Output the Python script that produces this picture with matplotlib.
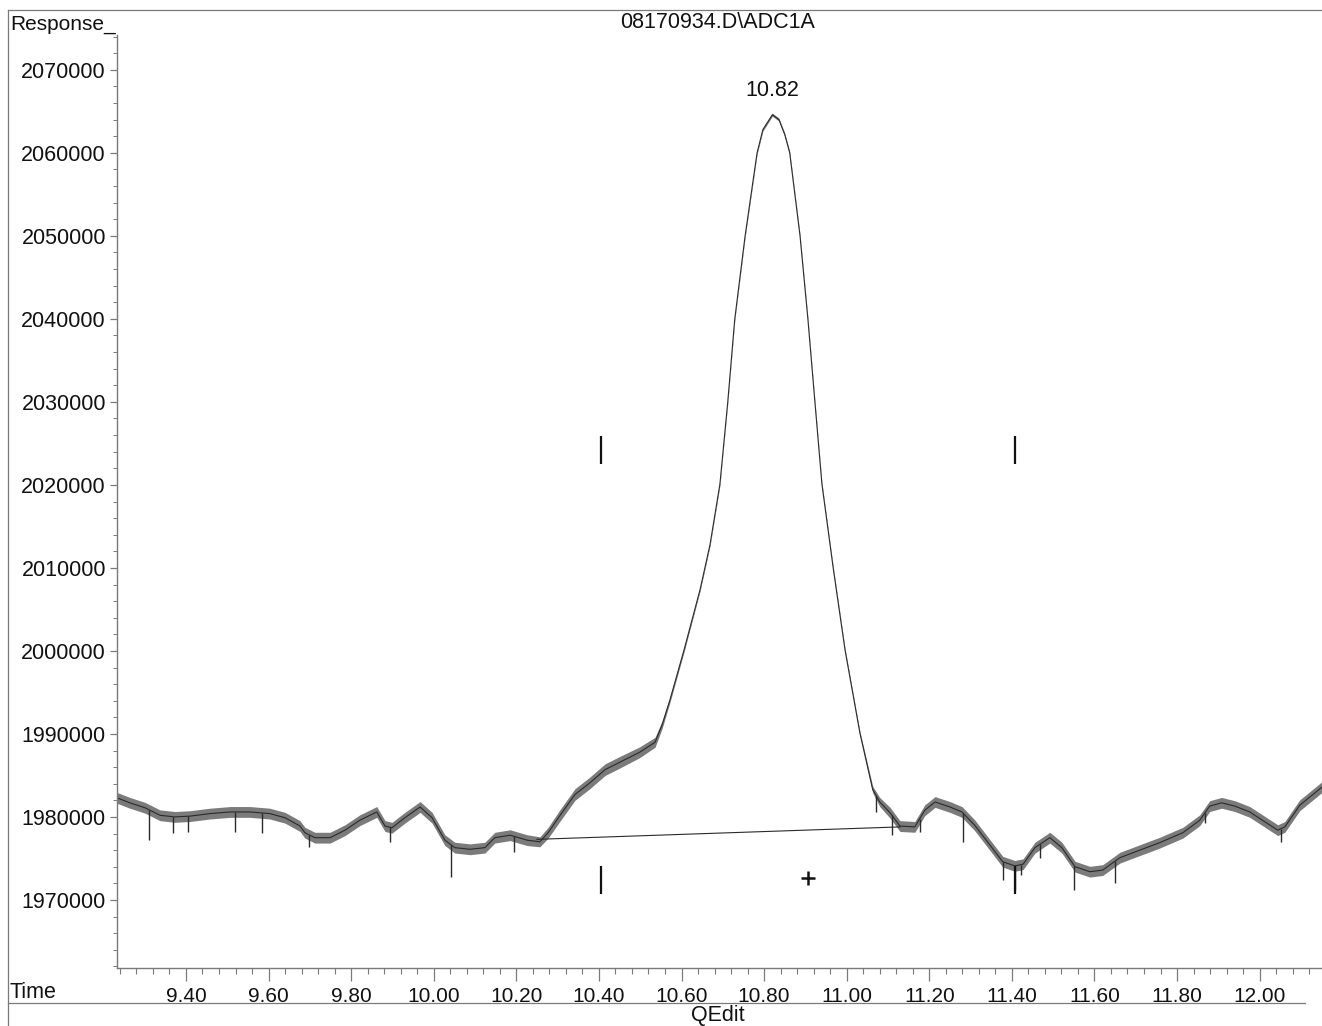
import matplotlib
matplotlib.use("Agg")
import numpy as np
import matplotlib.pyplot as plt
from matplotlib.lines import Line2D
from matplotlib.ticker import MultipleLocator, FixedLocator

plt.rcParams['font.family'] = ['Liberation Sans', 'DejaVu Sans']

# Retention time (min) and detector response of the ADC1A trace
time_min = [
    9.233, 9.264, 9.301, 9.337, 9.373, 9.410, 9.458, 9.507, 9.555, 9.603,
    9.640, 9.676, 9.688, 9.712, 9.749, 9.785, 9.821, 9.862, 9.882, 9.899,
    9.930, 9.967, 9.996, 10.027, 10.051, 10.088, 10.124, 10.148, 10.185, 10.226,
    10.257, 10.277, 10.306, 10.342, 10.378, 10.415, 10.451, 10.499, 10.536, 10.553,
    10.572, 10.606, 10.645, 10.669, 10.693, 10.712, 10.729, 10.754, 10.783, 10.797,
    10.820, 10.836, 10.850, 10.862, 10.887, 10.906, 10.923, 10.940, 10.967, 10.996,
    11.032, 11.063, 11.080, 11.105, 11.129, 11.165, 11.189, 11.214, 11.250, 11.279,
    11.310, 11.347, 11.378, 11.407, 11.427, 11.456, 11.492, 11.521, 11.553, 11.589,
    11.620, 11.662, 11.710, 11.758, 11.814, 11.855, 11.879, 11.908, 11.940, 11.976,
    12.013, 12.044, 12.061, 12.097, 12.151,
]
response = [
    1982300, 1981700, 1981100, 1980200, 1980000, 1980100, 1980400, 1980600, 1980600, 1980400,
    1979900, 1978900, 1978100, 1977500, 1977500, 1978400, 1979600, 1980600, 1978900, 1978700,
    1979900, 1981200, 1979900, 1977200, 1976300, 1976100, 1976300, 1977500, 1977800, 1977200,
    1977000, 1978100, 1980200, 1982700, 1984100, 1985700, 1986600, 1987800, 1989000, 1991100,
    1994100, 2000100, 2007400, 2012800, 2020100, 2030000, 2040000, 2050000, 2060000, 2062800,
    2064600, 2064000, 2062200, 2060000, 2050000, 2040000, 2030000, 2020100, 2010100, 2000100,
    1990100, 1983300, 1981800, 1980500, 1978900, 1978800, 1980800, 1981800, 1981200, 1980600,
    1979000, 1976600, 1974600, 1974100, 1974300, 1976300, 1977500, 1976300, 1974000, 1973400,
    1973600, 1975100, 1976000, 1976900, 1978100, 1979600, 1981300, 1981700, 1981300, 1980600,
    1979400, 1978400, 1978800, 1981400, 1983600,
]
# Half-height of the detector noise band around the trace
noise_halfwidth = [
    650, 650, 650, 650, 650, 650, 650, 650, 650, 650,
    650, 650, 650, 650, 650, 650, 650, 650, 650, 650,
    650, 650, 650, 650, 650, 650, 650, 650, 650, 650,
    600, 650, 700, 700, 700, 700, 700, 650, 600, 450,
    300, 250, 180, 180, 180, 180, 180, 180, 180, 180,
    180, 180, 180, 180, 180, 180, 180, 180, 180, 180,
    200, 400, 550, 650, 650, 650, 650, 650, 650, 650,
    650, 650, 650, 650, 650, 650, 650, 650, 650, 650,
    650, 650, 650, 650, 650, 650, 650, 650, 650, 650,
    650, 650, 650, 650, 650,
]
# Downward noise spikes: time and lowest response reached
spike_time = [9.310, 9.368, 9.404, 9.519, 9.583, 9.698, 9.894, 10.041, 10.194, 11.072,
              11.109, 11.177, 11.281, 11.378, 11.407, 11.422, 11.468, 11.551, 11.649, 11.867,
              12.051]
spike_floor = [1977200, 1978100, 1978200, 1978200, 1978100, 1976400, 1977000, 1972800, 1975800, 1980600,
               1977800, 1978200, 1977000, 1972400, 1971200, 1973000, 1975100, 1971200, 1972000, 1979300,
               1977000]

# Integration results
peak_label = "10.82"
peak_rt = 10.82
peak_height = 2064600
baseline_time = [10.25, 11.13]
baseline_resp = [1977300, 1978800]
event_time = [10.405, 11.407]
event_upper = 2024200
event_lower = 1972400
apex_mark_time = 10.906
apex_mark_resp = 1972650

title_text = "08170934.D\\ADC1A"
x_major = [9.40, 9.60, 9.80, 10.00, 10.20, 10.40, 10.60, 10.80, 11.00, 11.20, 11.40, 11.60, 11.80, 12.00]
y_major = [1970000, 1980000, 1990000, 2000000, 2010000, 2020000, 2030000, 2040000, 2050000, 2060000, 2070000]

W, H = 1322, 1026
fig = plt.figure(figsize=(W / 100, H / 100), dpi=100)
ax = fig.add_axes([117 / W, 1 - 968 / H, (W - 117) / W + 0.01, (968 - 35) / H])

frame_col = "#7a7a7a"
ink = "#2a2a2a"

t = np.array(time_min)
r = np.array(response)
hw = np.array(noise_halfwidth)

ax.fill_between(t, r - hw, r + hw, color="#5a5a5a", alpha=0.8, lw=0)
ax.plot(t, r, color=ink, lw=0.8)
ax.vlines(spike_time, spike_floor, np.interp(spike_time, t, r), color=ink, lw=1.0)

ax.plot(baseline_time, baseline_resp, color=ink, lw=0.8)
ax.plot(event_time, [event_upper] * 2, ls="none", marker="|", ms=20, mew=1.6, color="#111")
ax.plot(event_time, [event_lower] * 2, ls="none", marker="|", ms=20, mew=1.6, color="#111")
ax.plot([apex_mark_time], [apex_mark_resp], ls="none", marker="+", ms=10, mew=1.8, color="#111")
ax.annotate(peak_label, (peak_rt, peak_height), xytext=(0, 10), textcoords="offset points",
            ha="center", va="bottom", fontsize=15.5, color="#111")

ax.set_xlim(9.233, 12.151 + 0.01 * (12.151 - 9.233) * W / (W - 117))
ax.set_ylim(1961800, 2074200)

ax.xaxis.set_major_locator(FixedLocator(x_major))
ax.xaxis.set_minor_locator(MultipleLocator(0.04))
ax.yaxis.set_major_locator(FixedLocator(y_major))
ax.yaxis.set_minor_locator(MultipleLocator(2000))
ax.set_xticklabels([f"{v:.2f}" for v in x_major])
ax.set_yticklabels([f"{v:d}" for v in y_major])

ax.tick_params(axis="x", which="major", direction="out", length=9, width=0.9, color=frame_col,
               labelsize=15, pad=5, labelcolor="#111")
ax.tick_params(axis="x", which="minor", direction="out", length=4, width=0.8, color=frame_col)
ax.tick_params(axis="y", which="major", direction="out", length=5, width=0.9, color=frame_col,
               labelsize=15.5, pad=3, labelcolor="#111")
ax.tick_params(axis="y", which="minor", direction="out", length=3, width=0.7, color=frame_col)

for side in ("top", "right"):
    ax.spines[side].set_visible(False)
for side in ("left", "bottom"):
    ax.spines[side].set_color(frame_col)
    ax.spines[side].set_linewidth(1.0)

# Report frame around the plot
fig.add_artist(Line2D([8 / W, 1], [1 - 10 / H, 1 - 10 / H], color=frame_col, lw=0.9))
fig.add_artist(Line2D([8 / W, 8 / W], [0, 1 - 10 / H], color=frame_col, lw=0.9))
fig.add_artist(Line2D([8 / W, 1305 / W], [1 - 1003 / H, 1 - 1003 / H], color=frame_col, lw=0.9))

fig.text(10 / W, 1 - 24 / H, "Response_", fontsize=15, ha="left", va="center", color="#111")
fig.text(718 / W, 1 - 23 / H, title_text, fontsize=15.5, ha="center", va="center", color="#111")
fig.text(10 / W, 1 - 993 / H, "Time", fontsize=15.5, ha="left", va="center", color="#111")
fig.text(718 / W, 1 - 1016 / H, "QEdit", fontsize=15.5, ha="center", va="center", color="#111")

fig.savefig("out.png", dpi=100)
